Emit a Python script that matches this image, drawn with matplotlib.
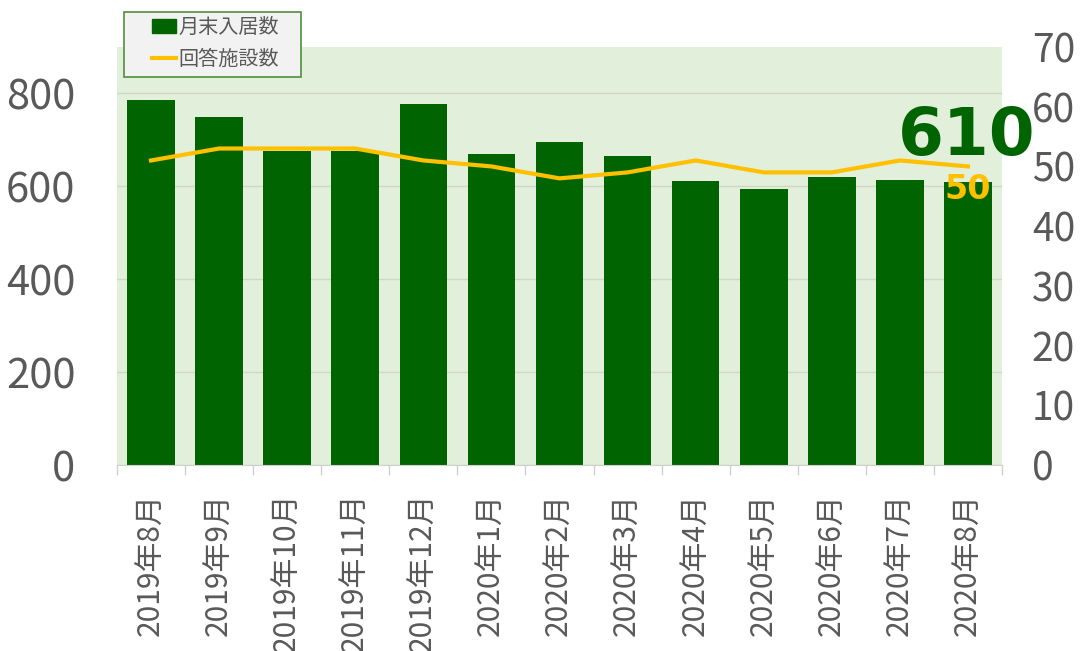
import matplotlib
matplotlib.use("Agg")
import matplotlib.pyplot as plt
from matplotlib.patches import Patch, Rectangle
from matplotlib.lines import Line2D
from matplotlib.ticker import FixedLocator, NullFormatter

plt.rcParams['font.family'] = ['Noto Sans CJK JP', 'DejaVu Sans']

categories = ["2019年8月", "2019年9月", "2019年10月", "2019年11月", "2019年12月",
              "2020年1月", "2020年2月", "2020年3月", "2020年4月", "2020年5月",
              "2020年6月", "2020年7月", "2020年8月"]
residents = [785, 750, 676, 676, 777, 669, 696, 665, 611, 595, 621, 613, 610]
facilities = [51, 53, 53, 53, 51, 50, 48, 49, 51, 49, 49, 51, 50]
left_ticks = [0, 200, 400, 600, 800]
right_ticks = [0, 10, 20, 30, 40, 50, 60, 70]
series_names = ["月末入居数", "回答施設数"]

bar_color = "#006400"
line_color = "#ffc000"
tick_gray = "#595959"

W, H = 1080, 651
fig = plt.figure(figsize=(W/100, H/100), dpi=100)
ax = fig.add_axes([117/W, 1-465/H, (1002-117)/W, (465-47)/H])
ax.set_facecolor("#e2efda")
x = list(range(len(categories)))
ax.bar(x, residents, width=0.7, color=bar_color, zorder=2)
ax.set_xlim(-0.5, len(categories)-0.5)
ax.set_ylim(0, 900)
ax.set_yticks(left_ticks)
ax.yaxis.grid(True, color="#cfd8c8", linewidth=1)
ax.set_axisbelow(True)
ax.tick_params(axis='y', length=0, pad=30, labelsize=30, labelcolor=tick_gray)
ax.set_xticks(x)
ax.set_xticklabels(categories, rotation=90, fontsize=21.5, color=tick_gray)
ax.tick_params(axis='x', which='major', length=0, pad=20)
ax.xaxis.set_minor_locator(FixedLocator([i-0.5 for i in range(len(categories)+1)]))
ax.xaxis.set_minor_formatter(NullFormatter())
ax.tick_params(axis='x', which='minor', length=7, color="#d0d0d0", width=1)
for s in ['top', 'left', 'right']:
    ax.spines[s].set_visible(False)
ax.spines['bottom'].set_color("#d0d0d0")

ax2 = ax.twinx()
ax2.plot(x, facilities, color=line_color, linewidth=3, zorder=3)
ax2.set_ylim(0, 70)
ax2.set_yticks(right_ticks)
ax2.tick_params(axis='y', length=0, pad=21.5, labelsize=28, labelcolor=tick_gray)
for s in ['top', 'left', 'right', 'bottom']:
    ax2.spines[s].set_visible(False)
ax2.patch.set_visible(False)

ax.annotate(f"{residents[-1]}", xy=(x[-1], residents[-1]), xytext=(-1, 19.5),
            textcoords='offset points', ha='center', va='baseline',
            fontsize=47.5, fontweight='bold', color=bar_color, family='DejaVu Sans',
            annotation_clip=False)
ax2.annotate(f"{facilities[-1]}", xy=(x[-1], facilities[-1]), xytext=(0, -5),
             textcoords='offset points', ha='center', va='top',
             fontsize=24, fontweight='bold', color=line_color, family='DejaVu Sans',
             zorder=5)

# legend frame drawn in figure pixels
frame = Rectangle((124/W, 1-77/H), (301-124)/W, (77-12)/H, transform=fig.transFigure,
                  facecolor="#f2f2f2", edgecolor="#4f8f3f", linewidth=1.2, zorder=1)
fig.patches.append(frame)
handles = [Patch(facecolor=bar_color, edgecolor=bar_color),
           Line2D([0], [0], color=line_color, linewidth=3)]
leg = fig.legend(handles, series_names, loc='upper left',
                 bbox_to_anchor=(152/W, 1-17/H), fontsize=14.5,
                 frameon=False, handlelength=1.2, handletextpad=0.1,
                 borderpad=0, labelspacing=0.55, borderaxespad=0)
leg.set_zorder(2)
for t in leg.get_texts():
    t.set_color(tick_gray)

fig.savefig("out.png", dpi=100)
